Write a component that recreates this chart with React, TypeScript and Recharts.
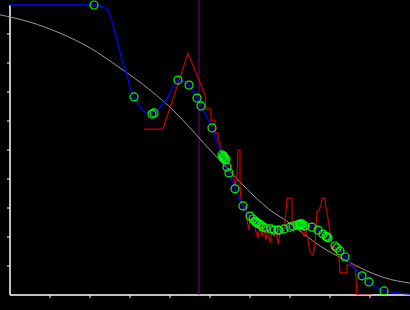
import React from "react";
import { LineChart, Line, XAxis, YAxis, ReferenceLine } from "recharts";

// smooth reference curve
const grayX = [-0.25, 0.5, 1.25, 2.0, 2.75, 3.5, 4.125, 4.5, 5.0, 5.375, 5.75, 6.125, 6.5, 6.95, 7.375, 7.75, 8.375, 8.875, 9.375, 10];
const grayY = [9.66, 9.41, 9.03, 8.52, 7.83, 7.07, 6.31, 5.76, 5.0, 4.45, 3.9, 3.38, 2.93, 2.52, 2.07, 1.69, 1.21, 0.86, 0.59, 0.41];

// fitted curve; blueMark = 1 where a sample circle sits on it
const blueX = [0, 2.1, 2.375, 2.5, 2.575, 2.675, 2.8, 2.925, 3.0, 3.1, 3.25, 3.375, 3.55, 3.6, 3.9, 4.2, 4.475, 4.675, 4.775, 5.05, 5.3, 5.325, 5.34, 5.35, 5.375, 5.4, 5.425, 5.475, 5.625, 5.825, 6.0, 6.075, 6.125, 6.15, 6.175, 6.225, 6.275, 6.325, 6.4, 6.525, 6.6, 6.7, 6.725, 6.85, 7.0, 7.075, 7.175, 7.225, 7.25, 7.275, 7.3, 7.325, 7.375, 7.55, 7.7, 7.825, 7.9, 7.925, 7.95, 8.125, 8.175, 8.25, 8.375, 8.8, 8.975, 9.35, 10];
const blueY = [10, 10, 9.9, 9.66, 9.31, 8.79, 8.1, 7.59, 7.17, 6.83, 6.48, 6.31, 6.24, 6.28, 6.72, 7.41, 7.24, 6.79, 6.52, 5.76, 4.83, 4.76, 4.79, 4.72, 4.69, 4.66, 4.41, 4.21, 3.66, 3.07, 2.72, 2.62, 2.55, 2.52, 2.48, 2.45, 2.41, 2.34, 2.31, 2.28, 2.24, 2.24, 2.24, 2.28, 2.34, 2.38, 2.41, 2.41, 2.45, 2.41, 2.45, 2.38, 2.38, 2.34, 2.24, 2.1, 2.03, 2.0, 1.97, 1.69, 1.62, 1.52, 1.31, 0.66, 0.45, 0.14, 0.03];
const blueMark = [0, 1, 0, 0, 0, 0, 0, 0, 0, 1, 0, 0, 1, 1, 0, 1, 1, 1, 1, 1, 1, 1, 1, 1, 1, 1, 1, 1, 1, 1, 1, 1, 1, 1, 1, 1, 1, 1, 1, 1, 1, 1, 1, 1, 1, 1, 1, 1, 1, 1, 1, 1, 1, 1, 1, 1, 1, 1, 1, 1, 1, 1, 1, 1, 1, 1, 0];

// raw measurements
const redX = [3.35, 3.825, 4.45, 4.875, 4.9, 5.025, 5.025, 5.125, 5.125, 5.2, 5.2, 5.25, 5.25, 5.3, 5.3, 5.45, 5.45, 5.55, 5.625, 5.675, 5.7, 5.75, 5.75, 5.775, 5.825, 5.85, 5.9, 5.925, 5.975, 6.0, 6.05, 6.1, 6.15, 6.2, 6.25, 6.3, 6.35, 6.4, 6.45, 6.5, 6.55, 6.6, 6.65, 6.7, 6.75, 6.8, 6.85, 6.9, 6.925, 7.05, 7.05, 7.1, 7.15, 7.2, 7.25, 7.3, 7.35, 7.4, 7.45, 7.5, 7.575, 7.625, 7.675, 7.725, 7.775, 7.8, 7.875, 7.9, 7.925, 7.975, 8.025, 8.075, 8.125, 8.175, 8.225, 8.25, 8.425, 8.425, 8.625, 8.65, 8.675, 9.05];
const redY = [5.72, 5.72, 8.34, 6.9, 6.41, 6.41, 6.03, 6.03, 5.59, 5.59, 5.28, 5.28, 5.0, 5.0, 4.59, 4.59, 4.31, 4.31, 3.79, 4.14, 5.0, 5.0, 3.79, 3.28, 3.1, 2.93, 3.1, 2.59, 2.24, 2.66, 2.41, 2.52, 2.17, 1.97, 2.41, 2.03, 2.31, 1.9, 2.41, 1.79, 2.17, 2.03, 2.24, 1.76, 2.17, 2.31, 2.17, 2.93, 3.34, 3.34, 2.59, 2.41, 2.45, 2.24, 2.31, 2.17, 2.03, 2.31, 1.9, 1.48, 1.38, 1.72, 2.86, 2.93, 3.1, 3.34, 3.34, 3.0, 2.83, 2.41, 1.97, 1.55, 1.72, 1.38, 1.28, 0.76, 0.76, 1.03, 1.03, 0.59, 0, 0];

const xTicks = [1, 2, 3, 4, 5, 6, 7, 8, 9];
const yTicks = [1, 2, 3, 4, 5, 6, 7, 8, 9];
const MARKER_X = 4.725;

const gray = grayX.map((x, i) => ({ x, y: grayY[i] }));
const blue = blueX.map((x, i) => ({ x, y: blueY[i], mark: blueMark[i] }));
const red = redX.map((x, i) => ({ x, y: redY[i] }));

const renderDot = (p: any) => {
  if (!p.payload || !p.payload.mark) return <g key={`d-${p.index}`} />;
  return (
    <circle
      key={`d-${p.index}`}
      cx={p.cx}
      cy={p.cy}
      r={4}
      fill="none"
      stroke="#00ff00"
      strokeWidth={1.2}
    />
  );
};

export default function App() {
  return (
    <div style={{ position: "fixed", left: 0, top: 0, width: 410, height: 310, background: "#000" }}>
      <LineChart width={410} height={310} margin={{ top: 0, right: 0, bottom: 0, left: 0 }}>
        <XAxis
          dataKey="x"
          type="number"
          domain={[-0.25, 10]}
          ticks={xTicks}
          height={15}
          axisLine={false}
          tickLine={{ stroke: "#fff" }}
          tickSize={3}
          tickFormatter={() => ""}
          allowDataOverflow
        />
        <YAxis type="number" domain={[0, 295 / 29]} hide allowDataOverflow />

        {/* axes drawn by hand so the plot can spill left of the y axis */}
        <ReferenceLine segment={[{ x: 0, y: 0 }, { x: 10, y: 0 }]} stroke="#fff" strokeWidth={1.5} />
        <ReferenceLine segment={[{ x: 0, y: 0 }, { x: 0, y: 10 }]} stroke="#fff" strokeWidth={1.5} />
        {yTicks.map((t) => (
          <ReferenceLine
            key={`yt-${t}`}
            segment={[{ x: -0.075, y: t }, { x: 0, y: t }]}
            stroke="#fff"
          />
        ))}
        <ReferenceLine x={MARKER_X} stroke="#800080" />

        <Line data={gray} dataKey="y" type="monotone" stroke="#9a9a9a" strokeWidth={1} dot={false} activeDot={false} isAnimationActive={false} />
        <Line data={red} dataKey="y" type="linear" stroke="#cc0000" strokeWidth={1.2} dot={false} activeDot={false} isAnimationActive={false} />
        <Line data={blue} dataKey="y" type="monotone" stroke="#0000ff" strokeWidth={1.3} dot={renderDot} activeDot={false} isAnimationActive={false} />
      </LineChart>
    </div>
  );
}
